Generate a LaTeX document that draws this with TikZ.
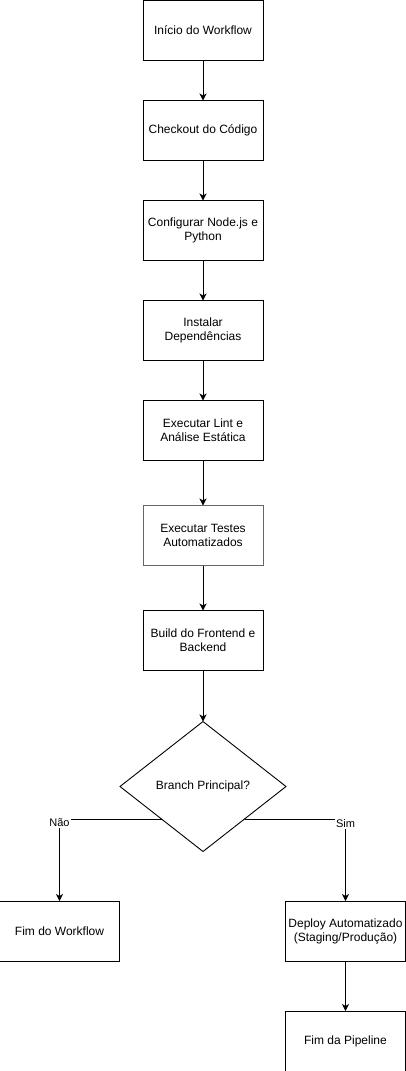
\documentclass[tikz,border=0pt]{standalone}
\usepackage{fontspec}
\setmainfont{Liberation Sans}
\usepackage{tikz}
\usetikzlibrary{positioning,shapes.geometric,arrows.meta}

\begin{document}
\begin{tikzpicture}[line width=0.9pt,-{Stealth[length=7pt,width=7pt,inset=2pt]},node distance=40pt,
  font=\fontsize{12}{14}\selectfont,
  stepbox/.style={draw, -, align=center, minimum height=60pt, minimum width=120pt, inner sep=2pt, outer sep=0pt},
  choice/.style={draw, -, diamond, aspect=1.28, minimum width=166pt, minimum height=130pt, inner sep=0pt, outer sep=0pt},
  lbl/.style={fill=white, font=\fontsize{11}{13}\selectfont, inner sep=1pt}]
  \useasboundingbox (0,0) rectangle (406pt,-1071pt);
  \node[stepbox] (start) at (203pt,-30.5pt) {Início do Workflow};
  \node[stepbox] (checkout) [below=of start] {Checkout do Código};
  \node[stepbox] (setup) [below=of checkout] {Configurar Node.js e\\Python};
  \node[stepbox] (deps) [below=of setup] {Instalar\\Dependências};
  \node[stepbox] (lint) [below=of deps] {Executar Lint e\\Análise Estática};
  \node[stepbox, draw=black!60] (tests) [below=45pt of lint] {Executar Testes\\Automatizados};
  \node[stepbox] (build) [below=45pt of tests] {Build do Frontend e\\Backend};
  \node[choice] (branch) [below=51pt of build] {Branch Principal?};
  \node[stepbox] (endwf) [below left=82pt and 42pt of branch] {Fim do Workflow};
  \node[stepbox] (deploy) [below right=82pt and 41pt of branch] {Deploy Automatizado\\(Staging/Produção)};
  \node[stepbox] (endpipe) [below=50pt of deploy] {Fim da Pipeline};
  \path (start) edge (checkout);
  \path (checkout) edge (setup);
  \path (setup) edge (deps);
  \path (deps) edge (lint);
  \path (lint) edge (tests);
  \path (tests) edge (build);
  \path (build) edge (branch);
  \draw (branch.south west) -| (endwf.north) node[lbl, pos=0.5, yshift=-4pt] {Não};
  \draw (branch.south east) -| (deploy.north) node[lbl, pos=0.5, yshift=-5pt] {Sim};
  \path (deploy) edge (endpipe);
  \end{tikzpicture}
\end{document}
